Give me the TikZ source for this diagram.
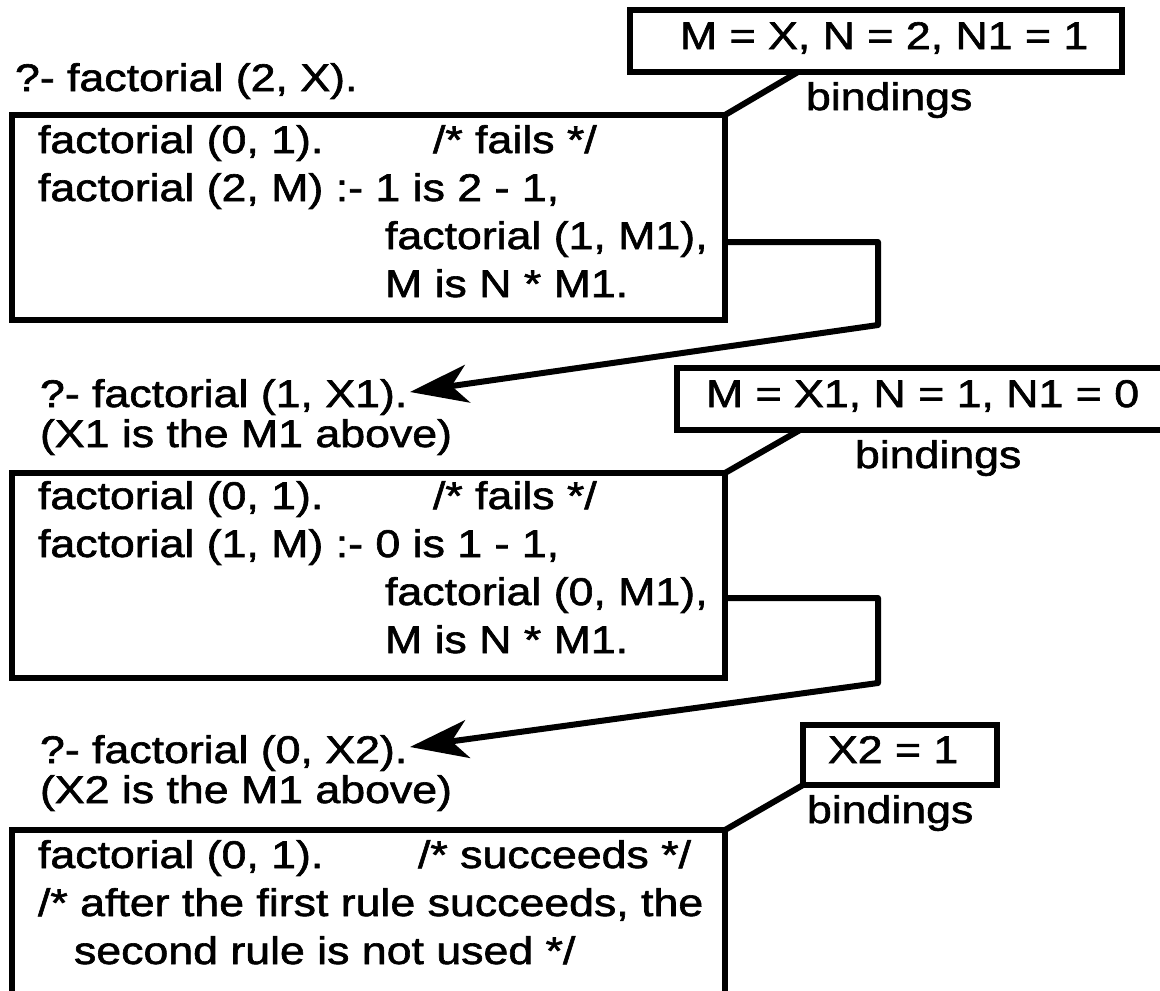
\documentclass[tikz,border=0pt]{standalone}
\usepackage{fontspec}
\setmainfont{Liberation Sans}[FakeStretch=1.16, FakeBold=1.6]
\usetikzlibrary{arrows.meta,calc}

\begin{document}
\begin{tikzpicture}[x=1pt,y=-1pt,
  every node/.style={inner sep=0pt, outer sep=0pt, anchor=base west,
    font=\fontsize{38.5}{40}\selectfont},
  frame/.style={draw, rectangle, line width=6.5pt, anchor=north west},
  link/.style={line width=6pt, line join=round, line cap=round},
  flow/.style={link, -{Stealth[length=58pt,width=38pt,inset=16pt]}},
]
\useasboundingbox (0,0) rectangle (1160,991);
\clip (0,0) rectangle (1160,991);

% ---------- first call: factorial(2, X) ----------
\node (t1) at (15,91) {?- factorial (2, X).};
\node[frame, minimum width=492pt, minimum height=62pt] (bind1) at (630,10) {};
\node (b1t) at (680,49) {M = X, N = 2, N1 = 1};
\node (bl1) at (806,110) {bindings};
\node[frame, minimum width=713pt, minimum height=205pt] (box1) at (12,115) {};
\node (c11) at (38,153) {factorial (0, 1).};
\node (c11n) at (433,153) {/* fails */};
\node (c12) at (38,201) {factorial (2, M) :- 1 is 2 - 1,};
\node (c13) at (385,249) {factorial (1, M1),};
\node (c14) at (385,297) {M is N * M1.};
\coordinate (k1) at ($(bind1.south west)+(168,0)$);
\draw[link] (k1) -- (box1.north east);

% recursive call from the rule body
\coordinate (a1s) at (725,242);
\coordinate (a1c) at (878,242);
\coordinate (a1d) at (878,325);
\coordinate (a1e) at (410,392);
\draw[flow] (a1s) -- (a1c) -- (a1d) -- (a1e);

% ---------- second call: factorial(1, X1) ----------
\node (t2a) at (40,407) {?- factorial (1, X1).};
\node (t2b) at (40,447) {(X1 is the M1 above)};
\node[frame, minimum width=500pt, minimum height=62pt] (bind2) at (677,368) {};
\node (b2t) at (706,407) {M = X1, N = 1, N1 = 0};
\node (bl2) at (855,468) {bindings};
\node[frame, minimum width=713pt, minimum height=205pt] (box2) at (12,473) {};
\node (c21) at (38,509) {factorial (0, 1).};
\node (c21n) at (433,509) {/* fails */};
\node (c22) at (38,557) {factorial (1, M) :- 0 is 1 - 1,};
\node (c23) at (385,605) {factorial (0, M1),};
\node (c24) at (385,653) {M is N * M1.};
\coordinate (k2) at ($(bind2.south west)+(123,0)$);
\draw[link] (k2) -- (box2.north east);

\coordinate (a2s) at (725,598);
\coordinate (a2c) at (878,598);
\coordinate (a2d) at (878,683);
\coordinate (a2e) at (410,747);
\draw[flow] (a2s) -- (a2c) -- (a2d) -- (a2e);

% ---------- third call: factorial(0, X2) ----------
\node (t3a) at (40,763) {?- factorial (0, X2).};
\node (t3b) at (40,803) {(X2 is the M1 above)};
\node[frame, minimum width=194pt, minimum height=60pt] (bind3) at (803,725) {};
\node (b3t) at (828,763) {X2 = 1};
\node (bl3) at (807,823) {bindings};
\node[frame, minimum width=713pt, minimum height=200pt] (box3) at (12,830) {};
\node (c31) at (38,868) {factorial (0, 1).};
\node (c31n) at (418,868) {/* succeeds */};
\node (c32) at (38,916) {/* after the first rule succeeds, the};
\node (c33) at (74,964) {second rule is not used */};
\draw[link] (bind3.south west) -- (box3.north east);
\end{tikzpicture}
\end{document}
